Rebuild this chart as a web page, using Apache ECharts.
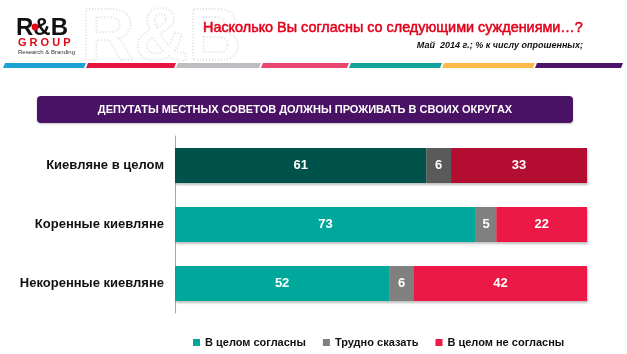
<!DOCTYPE html>
<html>
<head>
<meta charset="utf-8">
<script src="https://cdn.jsdelivr.net/npm/echarts@6/dist/echarts.min.js"></script>
<style>
  html, body { margin: 0; padding: 0; background: #fff; }
  #chart { width: 627px; height: 354px; }
</style>
</head>
<body>
<div id="chart"></div>
<script>
const categories = ['Киевляне в целом', 'Коренные киевляне', 'Некоренные киевляне']
const agree = [61, 73, 52]
const hard = [6, 5, 6]
const disagree = [33, 22, 42]
const seriesNames = ['В целом согласны', 'Трудно сказать', 'В целом не согласны']

const FONT = '"Liberation Sans", Arial, sans-serif'
const colors = ['#00A79B', '#808080', '#EC1846']
// first row is drawn in darker shades
const darkColors = ['#00524B', '#5A5A5A', '#B30D32']

const stripes = [
  [3, 84, '#1AA3D4'], [86, 174, '#E5163F'], [176, 259, '#BDBDC2'],
  [261, 347, '#EA4470'], [349, 440, '#13A398'], [442, 533, '#FDB94B'],
  [535, 621, '#4A1468'],
]

const myChart = echarts.init(document.getElementById('chart'))

const makeSeries = (name, values, i) => ({
  name,
  type: 'bar',
  stack: 'total',
  barWidth: 35,
  data: values.map((v, k) => ({
    value: v,
    itemStyle: { color: k === 0 ? darkColors[i] : colors[i] },
  })),
  itemStyle: {
    color: colors[i],
    shadowColor: 'rgba(0,0,0,0.25)',
    shadowBlur: 2,
    shadowOffsetX: 1,
    shadowOffsetY: 2,
  },
  label: {
    show: true,
    position: 'inside',
    color: '#fff',
    fontFamily: FONT,
    fontWeight: 'bold',
    fontSize: 13,
  },
})

const option = {
  animation: false,
  backgroundColor: '#fff',
  grid: { left: 175, right: 40, top: 136, bottom: 41 },
  legend: {
    left: 188,
    top: 332,
    icon: 'rect',
    itemWidth: 7,
    itemHeight: 7,
    itemGap: 17,
    textStyle: { fontFamily: FONT, fontWeight: 'bold', fontSize: 11, color: '#111' },
    data: seriesNames,
  },
  xAxis: {
    type: 'value',
    min: 0,
    max: 100,
    show: false,
  },
  yAxis: {
    type: 'category',
    inverse: true,
    data: categories,
    axisLine: { lineStyle: { color: '#A6A6A6', width: 1 } },
    axisTick: { length: 4, lineStyle: { color: '#A6A6A6' } },
    axisLabel: {
      margin: 11,
      color: '#111',
      fontFamily: FONT,
      fontWeight: 'bold',
      fontSize: 13,
    },
  },
  series: [
    makeSeries(seriesNames[0], agree, 0),
    makeSeries(seriesNames[1], hard, 1),
    makeSeries(seriesNames[2], disagree, 2),
  ],
  graphic: [
    // faint dotted watermark
    {
      type: 'text', left: 80, top: 2, silent: true,
      style: {
        text: 'R&B', fontFamily: FONT, fontWeight: 'bold', fontSize: 74,
        fill: 'none', stroke: '#E2E2E2', lineWidth: 2, lineDash: [1, 2],
      },
    },
    // logo
    {
      type: 'text', left: 16, top: 16,
      style: { text: 'R&B', fontFamily: FONT, fontWeight: 'bold', fontSize: 24, fill: '#111' },
    },
    { type: 'circle', shape: { cx: 35, cy: 27, r: 3.4 }, style: { fill: '#E30613' } },
    {
      type: 'text', left: 18, top: 37,
      style: { text: 'G R O U P', fontFamily: FONT, fontWeight: 'bold', fontSize: 11, fill: '#E30613' },
    },
    {
      type: 'text', left: 18, top: 49,
      style: { text: 'Research & Branding', fontFamily: FONT, fontSize: 6, fill: '#333' },
    },
    // title
    {
      type: 'text', right: 44, top: 21,
      style: {
        text: 'Насколько Вы согласны со следующими суждениями…?',
        fontFamily: FONT, fontSize: 14.4, fill: '#E2001A',
        stroke: '#E2001A', lineWidth: 0.5,
      },
    },
    {
      type: 'text', right: 44, top: 41,
      style: {
        text: 'Май  2014 г.; % к числу опрошенных;',
        fontFamily: FONT, fontWeight: 'bold', fontStyle: 'italic', fontSize: 9, fill: '#111',
      },
    },
    // coloured stripes
    ...stripes.map(([x0, x1, c]) => ({
      type: 'polygon',
      shape: { points: [[x0 + 2, 63], [x1 + 2, 63], [x1, 68], [x0, 68]] },
      style: { fill: c },
    })),
    // question box
    {
      type: 'rect',
      shape: { x: 37, y: 96, width: 536, height: 27, r: 4 },
      style: { fill: '#4A1265', shadowColor: 'rgba(0,0,0,0.25)', shadowBlur: 2, shadowOffsetY: 1 },
    },
    {
      type: 'text', x: 305, y: 109.5,
      style: {
        text: 'ДЕПУТАТЫ МЕСТНЫХ СОВЕТОВ ДОЛЖНЫ ПРОЖИВАТЬ В СВОИХ ОКРУГАХ',
        fontFamily: FONT, fontWeight: 'bold', fontSize: 11, fill: '#fff',
        align: 'center', verticalAlign: 'middle',
      },
    },
  ],
}

myChart.setOption(option)
</script>
</body>
</html>
